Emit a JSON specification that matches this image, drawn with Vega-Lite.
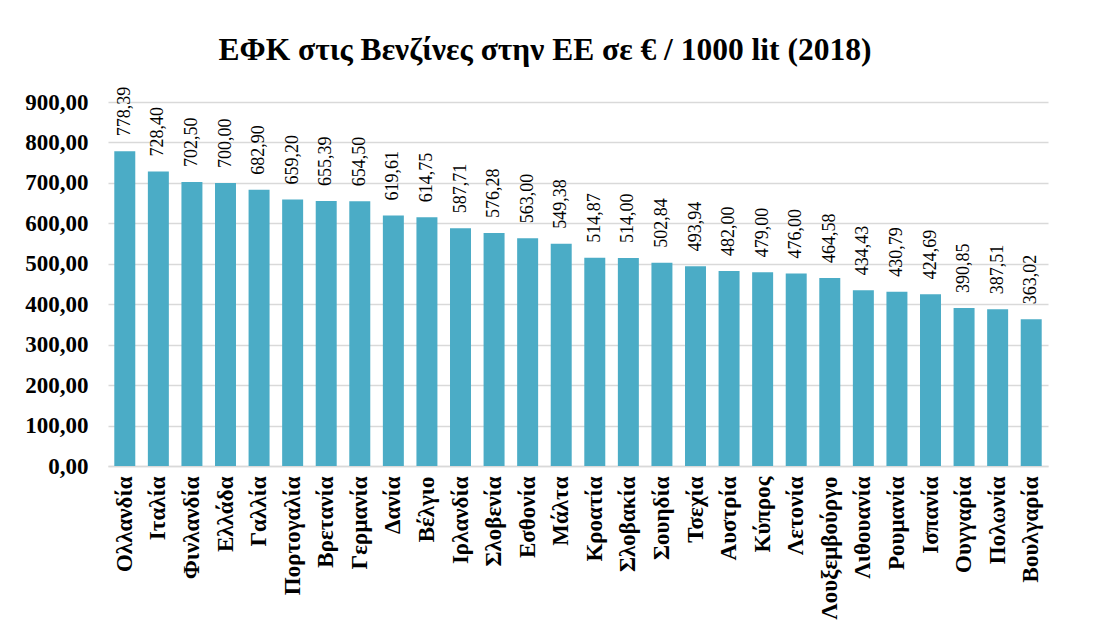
{
  "$schema": "https://vega.github.io/schema/vega-lite/v6.json",
  "width": 940,
  "height": 364,
  "autosize": {"type": "none"},
  "padding": {"left": 108, "top": 102, "right": 57, "bottom": 173},
  "background": "white",
  "config": {
    "locale": {"number": {"decimal": ",", "thousands": ".", "grouping": [3], "currency": ["", " €"]}},
    "view": {"stroke": null},
    "font": "'Liberation Serif', serif",
    "title": {"font": "'Liberation Serif', serif"},
    "axis": {"labelFont": "'Liberation Serif', serif"},
    "text": {"font": "'Liberation Serif', serif"}
  },
  "title": {
    "text": "ΕΦΚ στις Βενζίνες στην ΕΕ σε € / 1000 lit (2018)",
    "fontSize": 31.5,
    "fontWeight": "bold",
    "color": "#000000",
    "anchor": "middle",
    "dx": -33,
    "offset": 20
  },
  "data": {
    "values": [
      {"country": "Ολλανδία", "value": 778.39},
      {"country": "Ιταλία", "value": 728.40},
      {"country": "Φινλανδία", "value": 702.50},
      {"country": "Ελλάδα", "value": 700.00},
      {"country": "Γαλλία", "value": 682.90},
      {"country": "Πορτογαλία", "value": 659.20},
      {"country": "Βρετανία", "value": 655.39},
      {"country": "Γερμανία", "value": 654.50},
      {"country": "Δανία", "value": 619.61},
      {"country": "Βέλγιο", "value": 614.75},
      {"country": "Ιρλανδία", "value": 587.71},
      {"country": "Σλοβενία", "value": 576.28},
      {"country": "Εσθονία", "value": 563.00},
      {"country": "Μάλτα", "value": 549.38},
      {"country": "Κροατία", "value": 514.87},
      {"country": "Σλοβακία", "value": 514.00},
      {"country": "Σουηδία", "value": 502.84},
      {"country": "Τσεχία", "value": 493.94},
      {"country": "Αυστρία", "value": 482.00},
      {"country": "Κύπρος", "value": 479.00},
      {"country": "Λετονία", "value": 476.00},
      {"country": "Λουξεμβούργο", "value": 464.58},
      {"country": "Λιθουανία", "value": 434.43},
      {"country": "Ρουμανία", "value": 430.79},
      {"country": "Ισπανία", "value": 424.69},
      {"country": "Ουγγαρία", "value": 390.85},
      {"country": "Πολωνία", "value": 387.51},
      {"country": "Βουλγαρία", "value": 363.02}
    ]
  },
  "encoding": {
    "x": {
      "field": "country",
      "type": "nominal",
      "sort": null,
      "scale": {"paddingInner": 0.375, "paddingOuter": 0.1875},
      "axis": {
        "title": null,
        "labelAngle": -90,
        "labelAlign": "right",
        "labelBaseline": "middle",
        "labelFontSize": 23,
        "labelFontWeight": "bold",
        "labelColor": "#000000",
        "labelPadding": 10,
        "ticks": false,
        "domainColor": "#D9D9D9",
        "domainWidth": 1.5,
        "grid": false
      }
    },
    "y": {
      "field": "value",
      "type": "quantitative",
      "scale": {"domain": [0, 900], "nice": false},
      "axis": {
        "title": null,
        "values": [0, 100, 200, 300, 400, 500, 600, 700, 800, 900],
        "format": ",.2f",
        "labelFontSize": 23,
        "labelFontWeight": "bold",
        "labelColor": "#000000",
        "labelPadding": 20,
        "ticks": false,
        "domain": false,
        "grid": true,
        "gridColor": "#D9D9D9",
        "gridWidth": 1.5
      }
    }
  },
  "layer": [
    {"mark": {"type": "bar", "color": "#4BACC6"}},
    {
      "mark": {
        "type": "text",
        "angle": 270,
        "align": "left",
        "baseline": "middle",
        "dx": 15,
        "fontSize": 18,
        "color": "#000000"
      },
      "encoding": {
        "text": {"field": "value", "type": "quantitative", "format": ",.2f"}
      }
    }
  ]
}
